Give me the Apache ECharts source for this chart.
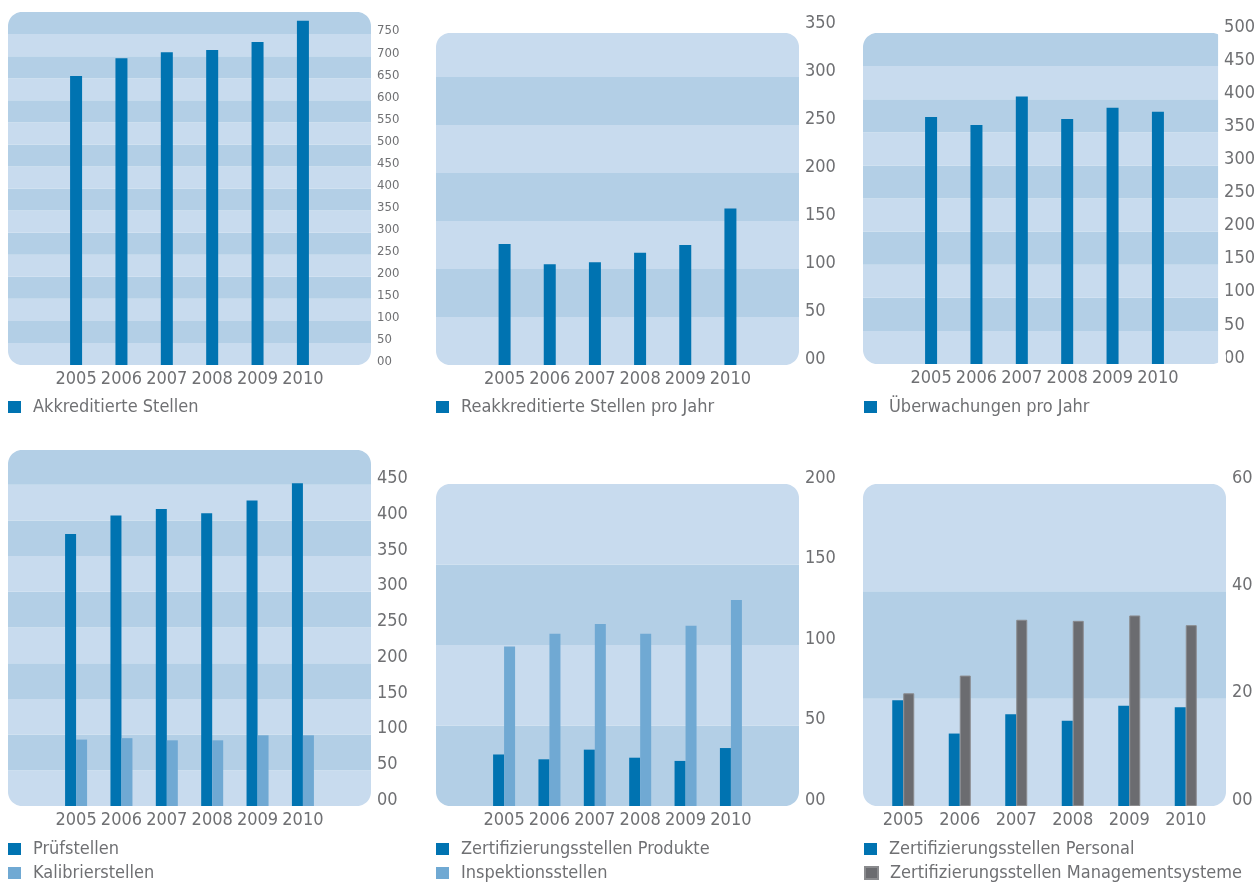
<!DOCTYPE html>
<html>
<head>
<meta charset="utf-8">
<script src="https://cdn.jsdelivr.net/npm/echarts@6/dist/echarts.min.js"></script>
<style>
  html, body { margin: 0; padding: 0; background: #fff; }
  #main { width: 1258px; height: 882px; }
</style>
</head>
<body>
<div id="main"></div>
<script>
// data
const years = ['2005', '2006', '2007', '2008', '2009', '2010']
const akkreditierte = [655, 695, 709, 714, 732, 780]
const reakkreditierte = [126, 105, 107, 117, 125, 163]
const ueberwachungen = [373, 361, 404, 370, 387, 381]
const pruefstellen = [381, 407, 416, 410, 428, 452]
const kalibrierstellen = [93, 95, 92, 92, 99, 99]
const zertProdukte = [32, 29, 35, 30, 28, 36]
const inspektion = [99, 107, 113, 107, 112, 128]
const zertPersonal = [19.7, 13.5, 17.1, 15.9, 18.7, 18.4]
const zertManagement = [21, 24.3, 34.7, 34.5, 35.5, 33.7]

// axis ranges
const yMax = [800, 350, 500, 500, 200, 60]
const yStep = [50, 50, 50, 50, 50, 20]

const DARK = '#0073b1'
const LIGHT = '#70a9d3'
const GRAY = '#6b6c70'
const BAND_LIGHT = '#c8dbee'
const BAND_DARK = '#b3cfe6'
const TEXT = '#6f7073'
const FONT = "'Liberation Sans Narrow', 'DejaVu Sans Condensed', sans-serif"

// layout of the six panels: [left, top, right, bottom]
const charts = [
  { panel: [8, 12, 371, 365], top: 12, labelSize: 13, lift: 3, showMax: false, lightFirst: true, inset: 45.4,
    series: [{ name: 'Akkreditierte Stellen', data: akkreditierte, color: DARK }], legend: [8, 398] },
  { panel: [436, 33, 799, 365], top: 29, labelSize: 18, lift: 6, showMax: true, lightFirst: true, inset: 46,
    series: [{ name: 'Reakkreditierte Stellen pro Jahr', data: reakkreditierte, color: DARK }], legend: [436, 398] },
  { panel: [863, 33, 1226, 364], top: 33, labelSize: 18, lift: 6, showMax: true, lightFirst: true, inset: 45.4,
    series: [{ name: 'Überwachungen pro Jahr', data: ueberwachungen, color: DARK }], legend: [864, 398] },
  { panel: [8, 450, 371, 806], top: 449, labelSize: 18, lift: 6, showMax: false, lightFirst: true, inset: 45.4,
    series: [{ name: 'Prüfstellen', data: pruefstellen, color: DARK }, { name: 'Kalibrierstellen', data: kalibrierstellen, color: LIGHT }], legend: [8, 840] },
  { panel: [436, 484, 799, 806], top: 484, labelSize: 18, lift: 6, showMax: true, lightFirst: false, inset: 45.4,
    series: [{ name: 'Zertifizierungsstellen Produkte', data: zertProdukte, color: DARK }, { name: 'Inspektionsstellen', data: inspektion, color: LIGHT }], legend: [436, 840] },
  { panel: [863, 484, 1226, 806], top: 484, labelSize: 18, lift: 6, showMax: true, lightFirst: true, inset: 12,
    series: [{ name: 'Zertifizierungsstellen Personal', data: zertPersonal, color: DARK }, { name: 'Zertifizierungsstellen Managementsysteme', data: zertManagement, color: GRAY, border: '#8a8b8e' }], legend: [864, 840] },
]

const R = 14
const ROW = 24

// white corner pieces so the striped panel looks rounded
function cornerMask(cx, cy, x0, y0, a0, a1) {
  const pts = [[x0, y0]]
  for (let k = 0; k <= 12; k++) {
    const a = (a0 + (a1 - a0) * k / 12) * Math.PI / 180
    pts.push([cx + R * Math.cos(a), cy + R * Math.sin(a)])
  }
  return { type: 'polygon', silent: true, z: 50, shape: { points: pts }, style: { fill: '#fff' } }
}

const option = {
  animation: false,
  backgroundColor: '#fff',
  grid: [], xAxis: [], yAxis: [], series: [], legend: [], graphic: []
}

charts.forEach((c, i) => {
  const [L, T, Rt, B] = c.panel
  const bg = option.grid.length
  // background grid: stripes + value labels
  option.grid.push({ left: L, top: c.top, width: Rt - L, height: B - c.top })
  option.xAxis.push({ gridIndex: bg, type: 'value', min: 0, max: 1, show: false })
  option.yAxis.push({
    gridIndex: bg, type: 'value', position: 'right', min: 0, max: yMax[i], interval: yStep[i],
    axisLine: { show: false }, axisTick: { show: false }, splitLine: { show: false },
    splitArea: { show: true, areaStyle: { color: c.lightFirst ? [BAND_LIGHT, BAND_DARK] : [BAND_DARK, BAND_LIGHT] } },
    axisLabel: {
      margin: 6, fontSize: c.labelSize, color: TEXT, fontFamily: FONT,
      showMaxLabel: c.showMax, showMinLabel: true,
      verticalAlign: 'bottom', lineHeight: c.lift * 2,
      formatter: v => (v === 0 ? '00' : String(v))
    }
  })
  // bar grid
  const fg = bg + 1
  option.grid.push({ left: L + c.inset, top: c.top, width: Rt - L - 2 * c.inset, height: B - c.top })
  option.xAxis.push({
    gridIndex: fg, type: 'category', data: years,
    axisLine: { show: false }, axisTick: { show: false },
    axisLabel: { interval: 0, margin: 5, fontSize: 18, color: TEXT, fontFamily: FONT }
  })
  option.yAxis.push({ gridIndex: fg, type: 'value', min: 0, max: yMax[i], show: false })
  const pair = c.series.length > 1
  c.series.forEach((s, k) => {
    option.series.push({
      type: 'bar', name: s.name, xAxisIndex: fg, yAxisIndex: fg, data: s.data,
      barWidth: pair ? 11 : 12, barGap: '0%',
      itemStyle: { color: s.color, borderColor: s.border || s.color, borderWidth: s.border ? 1 : 0 }
    })
    // one legend per row
    option.legend.push({
      left: c.legend[0], top: c.legend[1] + k * ROW, padding: 0, icon: 'rect',
      itemWidth: 13, itemHeight: 12, selectedMode: false,
      data: [s.name],
      textStyle: { fontFamily: FONT, fontSize: 18, color: TEXT, lineHeight: 18, padding: [0, 0, 0, 7] }
    })
  })
  if (c.top < T) {
    option.graphic.push({ type: 'rect', silent: true, z: 50, shape: { x: L, y: c.top, width: Rt - L, height: T - c.top }, style: { fill: '#fff' } })
  }
  option.graphic.push(cornerMask(L + R, T + R, L, T, 180, 270))
  option.graphic.push(cornerMask(Rt - R, T + R, Rt, T, 270, 360))
  option.graphic.push(cornerMask(Rt - R, B - R, Rt, B, 0, 90))
  option.graphic.push(cornerMask(L + R, B - R, L, B, 90, 180))
})

const chart = echarts.init(document.getElementById('main'))
chart.setOption(option)
</script>
</body>
</html>
